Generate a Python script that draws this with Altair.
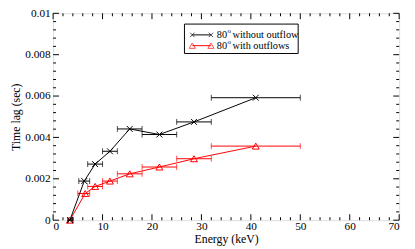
import altair as alt
import pandas as pd

# ---- data ----
energy_black = [3.4, 6.3, 8.5, 11.5, 15.5, 21.5, 28.5, 41.0]
lo_black = [3.0, 5.2, 7.0, 10.0, 13.0, 18.0, 25.0, 32.0]
hi_black = [4.0, 7.4, 10.0, 13.0, 18.0, 25.0, 32.0, 50.0]
lag_black = [0.0, 0.00189, 0.00271, 0.00333, 0.00441, 0.00414, 0.00475, 0.00592]

energy_red = [3.4, 6.5, 8.5, 11.5, 15.5, 21.5, 28.5, 41.0]
lo_red = [3.0, 5.0, 7.0, 10.0, 13.0, 18.0, 25.0, 32.0]
hi_red = [4.0, 7.4, 10.0, 13.0, 18.0, 25.0, 32.0, 50.0]
lag_red = [0.0, 0.00129, 0.00163, 0.00189, 0.00224, 0.00257, 0.00297, 0.00358]

x_major = [0, 10, 20, 30, 40, 50, 60, 70]
x_minor = [v for v in range(0, 71, 2) if v % 10 != 0]
y_major = [0, 0.002, 0.004, 0.006, 0.008, 0.01]
y_minor = [i * 0.0004 for i in range(26) if i % 5 != 0]

W, H = 353, 211
FONT = "Liberation Serif"

black = pd.DataFrame({"e": energy_black, "lo": lo_black, "hi": hi_black, "lag": lag_black})
red = pd.DataFrame({"e": energy_red, "lo": lo_red, "hi": hi_red, "lag": lag_red})

xs = alt.Scale(domain=[0, 70], nice=False, zero=False)
ys = alt.Scale(domain=[0, 0.01], nice=False, zero=False)

X = alt.X("e:Q", scale=xs, axis=alt.Axis(values=x_major, title="Energy (keV)", ticks=False,
                                           domain=False, grid=False, labelFont=FONT, labelFontSize=11.5,
                                           labelColor="black", labelPadding=1, titleFont=FONT,
                                           titleFontSize=12, titleFontWeight="normal", titleColor="black",
                                           titlePadding=1))
Y = alt.Y("lag:Q", scale=ys, axis=alt.Axis(values=y_major, format="~g", title="Time lag (sec)", ticks=False,
                                             domain=False, grid=False, labelFont=FONT, labelFontSize=11.5,
                                             labelColor="black", labelPadding=3, titleFont=FONT,
                                             titleFontSize=12, titleFontWeight="normal", titleColor="black",
                                             titlePadding=2))

XPATH = "M-1,-1L1,1M-1,1L1,-1"
CAP = "M0,-1L0,1"


def series(df, color, shape, size, width):
    base = alt.Chart(df)
    line = base.mark_line(color=color, strokeWidth=1).encode(x=X, y=Y)
    bar = base.mark_rule(color=color, strokeWidth=1).encode(
        x=alt.X("lo:Q", scale=xs), x2="hi:Q", y=alt.Y("lag:Q", scale=ys))
    cap_lo = base.mark_point(shape=CAP, size=36, color=color, filled=False, strokeWidth=1).encode(
        x=alt.X("lo:Q", scale=xs), y=alt.Y("lag:Q", scale=ys))
    cap_hi = base.mark_point(shape=CAP, size=36, color=color, filled=False, strokeWidth=1).encode(
        x=alt.X("hi:Q", scale=xs), y=alt.Y("lag:Q", scale=ys))
    pts = base.mark_point(shape=shape, size=size, color=color, filled=False, strokeWidth=width, opacity=1).encode(
        x=alt.X("e:Q", scale=xs), y=alt.Y("lag:Q", scale=ys))
    return [line, bar, cap_lo, cap_hi, pts]


# inward ticks on all four sides
def xticks(vals, ln):
    d = pd.DataFrame({"t": vals})
    b = alt.Chart(d).mark_rule(color="black", strokeWidth=1)
    return [b.encode(x=alt.X("t:Q", scale=xs), y=alt.value(H), y2=alt.value(H - ln)),
            b.encode(x=alt.X("t:Q", scale=xs), y=alt.value(0), y2=alt.value(ln))]


def yticks(vals, ln):
    d = pd.DataFrame({"t": vals})
    b = alt.Chart(d).mark_rule(color="black", strokeWidth=1)
    return [b.encode(y=alt.Y("t:Q", scale=ys), x=alt.value(0), x2=alt.value(ln)),
            b.encode(y=alt.Y("t:Q", scale=ys), x=alt.value(W), x2=alt.value(W - ln))]


ticks = xticks(x_major, 6) + xticks(x_minor, 3) + yticks(y_major, 6) + yticks(y_minor, 3)

# legend drawn by hand (pixel positions inside the plot area)
LX, LY = 134, 11
one = pd.DataFrame({"a": [0]})
lb = alt.Chart(one)
TXT = dict(font=FONT, fontSize=10.5, align="left", baseline="middle", color="black")
SUP = dict(font=FONT, fontSize=7, align="left", baseline="middle", color="black")
legend = [
    lb.mark_rect(fill="white", stroke="black", strokeWidth=1).encode(
        x=alt.value(LX), x2=alt.value(LX + 116), y=alt.value(LY), y2=alt.value(LY + 30)),
    lb.mark_rule(color="black", strokeWidth=1).encode(x=alt.value(LX + 8), x2=alt.value(LX + 27), y=alt.value(LY + 11)),
    lb.mark_point(shape=XPATH, size=20, color="black", filled=False, strokeWidth=1).encode(x=alt.value(LX + 8), y=alt.value(LY + 11)),
    lb.mark_point(shape=XPATH, size=20, color="black", filled=False, strokeWidth=1).encode(x=alt.value(LX + 27), y=alt.value(LY + 11)),
    lb.mark_rule(color="red", strokeWidth=1).encode(x=alt.value(LX + 8), x2=alt.value(LX + 27), y=alt.value(LY + 22)),
    lb.mark_point(shape="triangle-up", size=40, color="red", filled=False, strokeWidth=1).encode(x=alt.value(LX + 8), y=alt.value(LY + 22)),
    lb.mark_point(shape="triangle-up", size=40, color="red", filled=False, strokeWidth=1).encode(x=alt.value(LX + 27), y=alt.value(LY + 22)),
    lb.mark_text(text="80", **TXT).encode(x=alt.value(LX + 33), y=alt.value(LY + 11.5)),
    lb.mark_text(text="o", **SUP).encode(x=alt.value(LX + 44), y=alt.value(LY + 7.5)),
    lb.mark_text(text="without outflow", **TXT).encode(x=alt.value(LX + 49), y=alt.value(LY + 11.5)),
    lb.mark_text(text="80", **TXT).encode(x=alt.value(LX + 33), y=alt.value(LY + 22.5)),
    lb.mark_text(text="o", **SUP).encode(x=alt.value(LX + 44), y=alt.value(LY + 18.5)),
    lb.mark_text(text="with outflows", **TXT).encode(x=alt.value(LX + 49), y=alt.value(LY + 22.5)),
]

layers = series(red, "#ff0000", "triangle-up", 50, 1) + series(black, "black", XPATH, 36, 1) + ticks + legend

chart = alt.layer(*layers).properties(
    width=W, height=H,
    autosize=alt.AutoSizeParams(type="none"),
    padding={"left": 46, "top": 3, "right": 8, "bottom": 27},
).configure_view(stroke="black", strokeWidth=1.5).configure(background="white")

chart.save("out.html", embed_options={"renderer": "svg", "actions": False})
